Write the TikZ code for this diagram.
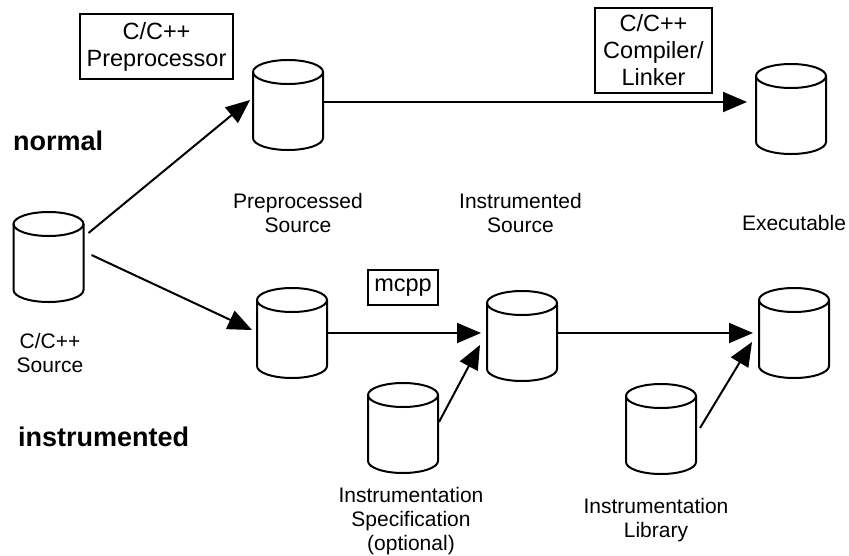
\documentclass[tikz,border=0pt]{standalone}
\usepackage{fontspec}
\setmainfont{Liberation Sans}
\usetikzlibrary{arrows.meta,calc}

% A data store: invisible box named #1 plus the drawn cylinder outline.
% #2 = centre x, #3 = top y (y grows downwards in this picture).
\newcommand\dbcyl[3]{%
  \node[dbbox] (#1) at (#2,#3+45) {};
  \draw[cyl] (#2,#3+12) ellipse [x radius=35, y radius=12];
  \draw[cyl] (#2-35,#3+12) -- (#2-35,#3+78)
    arc[start angle=180, end angle=0, x radius=35, y radius=12]
    -- (#2+35,#3+12);
}

\begin{document}
\begin{tikzpicture}[x=1pt,y=-1pt,
  cyl/.style={line width=2pt},
  dbbox/.style={draw=none,minimum width=70pt,minimum height=90pt,inner sep=0pt,outer sep=0pt},
  flow/.style={line width=2pt,-{Triangle[length=24pt,width=20pt]}},
  tool/.style={draw,line width=1.8pt,align=center,inner sep=0pt,
    font=\fontsize{23.5}{27}\selectfont},
  lbl/.style={align=center,inner sep=0pt,anchor=north,
    font=\fontsize{21}{24}\selectfont},
  mode/.style={inner sep=0pt,anchor=base west,
    font=\fontsize{27}{32}\selectfont\bfseries}]

\useasboundingbox (0,0) rectangle (849,555);

% data stores
\dbcyl{src}{48.5}{212}
\dbcyl{pre}{288}{60}
\dbcyl{exe}{791}{64}
\dbcyl{mid}{292}{288}
\dbcyl{ins}{522}{291}
\dbcyl{xin}{794}{288}
\dbcyl{spec}{403}{383}
\dbcyl{lib}{661}{384}

% tools
\node[tool,minimum width=153pt,minimum height=65pt] (pp) at (156.5,46.5)
  {\fontsize{23.5}{26}\selectfont C/C++\\Preprocessor};
\node[tool,minimum width=117pt,minimum height=85pt] (cl) at (653.5,50.5)
  {C/C++\\Compiler/\\Linker};
\node[tool,minimum width=70pt,minimum height=35pt] (mc) at (403,287.5) {mcpp};

% mode captions
\node[mode] (nrm) at (13,150) {normal};
\node[mode] (imd) at (18,446) {instrumented};

% store captions
\node[lbl] (srcl) at (50,333) {C/C++\\Source};
\node[lbl] (prel) at (298,193) {Preprocessed\\Source};
\node[lbl] (insl) at (520.5,193) {Instrumented\\Source};
\node[lbl] (exel) at (794,215) {Executable};
\node[lbl] (specl) at (411,487) {Instrumentation\\Specification\\(optional)};
\node[lbl] (libl) at (656,498) {Instrumentation\\Library};

% flows
\draw[flow] ($(src.east)+(5,-24)$) -- ($(pre.west)+(-3,-5)$);
\draw[flow] ($(src.east)+(8,-2)$) -- ($(mid.west)+(-5,-3)$);
\draw[flow] ($(pre.east)+(0,-3)$) -- ($(exe.west)+(-9,-7)$);
\draw[flow] (mid.east) -- ($(ins.west)+(-6,-3)$);
\draw[flow] ($(spec.east)+(1,-6)$) -- ($(ins.west)+(-7,9)$);
\draw[flow] ($(ins.east)+(0,-3)$) -- ($(xin.west)+(-6,0)$);
\draw[flow] ($(lib.east)+(4,-1)$) -- ($(xin.west)+(-7,9)$);
\end{tikzpicture}
\end{document}
